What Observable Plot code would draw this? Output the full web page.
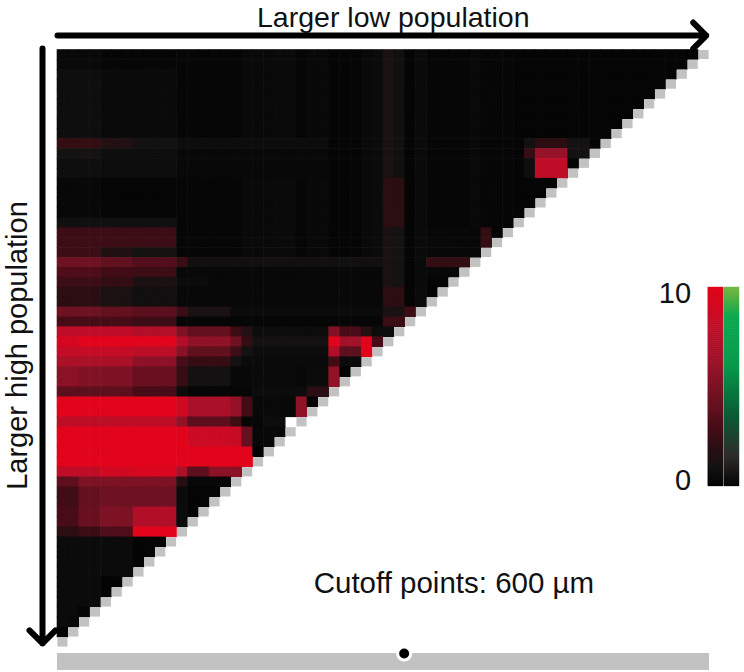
<!DOCTYPE html>
<html>
<head>
<meta charset="utf-8">
<script src="https://cdn.jsdelivr.net/npm/d3@7"></script>
<script src="https://cdn.jsdelivr.net/npm/@observablehq/plot@0.6"></script>
<style>html,body{margin:0;padding:0;background:#fff}svg{display:block}</style>
</head>
<body>
<div id="chart"></div>
<script>
// Colour scale stops (values 0-10)
const colorStops = [0, 0.5, 1, 2, 3, 4, 5, 6, 7, 8, 9, 10];
const colorRange = ["#030303","#0b0b0b","#151212","#2c0e12","#480c18","#64101f","#7c1224","#951228","#ab1029","#c00d27","#d20820","#e2041a"];
const greenStops = [0, 1.5, 3.5, 6, 8.5, 9.5, 10];
const greenRange = ["#050505","#2e2c2a","#0b5a34","#05984a","#0aa84f","#55b044","#76b843"];

// Shared runs, as [span, value, span, value, ...]
const midTail = [6,.2, 3,.35, 2,.45, 1,.2, 2,.4, 3,.15, 1,.4, 1,.5];
const rightTail = [1,.15, 1,.45, 4,.2, 1,.4, 3,.2, 18,.15];
const r00 = [4,.4, 7,.2, ...midTail, 1,1.2, 1,.8, ...rightTail];
const r02 = [4,.7, 7,.45, ...midTail, 1,1.2, 1,.8, ...rightTail];
const r09 = [4,2.2, 3,1.6, 4,.9, 14,.6, 3,.15, 1,.4, 1,.5, 1,1.2, 1,.8, 1,.15, 1,.45, 4,.2, 1,.4, 3,.2, 1,.15, 1,.9, 3,2, 2,.9, 9,.15];
const r10 = [4,1, 7,.7, 14,.3, 3,.15, 1,.4, 1,.5, 1,1.2, 1,.8, 1,.15, 1,.45, 4,.2, 1,.4, 3,.2, 1,.15, 1,2.4, 3,6, 2,.9];
const r11 = [4,.7, 7,.6, 14,.3, 3,.15, 1,.4, 1,.5, 1,1.2, 1,.8, 1,.15, 1,.45, 4,.2, 1,.4, 3,.2, 1,.15, 1,.7, 3,8, 1,.1];
const r13 = [4,.3, 7,.1, ...midTail, 2,1.9, ...rightTail];
const r17 = [11,.8, ...midTail, 2,1.9, ...rightTail];
const r18 = [11,2.6, ...midTail, 1,1.3, 1,1, 1,.15, 1,.45, 5,.3, 1,2.2, 1,.05];
const r20 = [4,2.6, 3,1.5, 4,1, ...midTail, 1,1.3, 1,1, 1,.15, 1,.45, 5,.3];
const r21 = [4,4.4, 3,3.9, 4,3.4, 1,2.5, 18,.8, 1,1.3, 1,1, 1,.15, 1,.45, 4,2.2];
const r22 = [4,3.2, 3,2.8, 4,2.6, 19,.3, 1,1.3, 1,1, 1,.15, 1,.45, 3,.3];
const r23 = [4,2.6, 3,2.2, 4,1.3, 3,.5, 16,.3, 1,1.3, 1,1, 1,.15, 1,.45, 2,.1];
const r24 = [4,2, 3,1.2, 4,.8, 19,.3, 2,2, 1,.1, 1,.5, 1,.05];
const r26 = [4,4.4, 3,4, 4,3.7, 1,2.6, 4,1.2, 14,.5, 2,1.2, 1,2.6];
const r27 = [4,3, 3,3, 4,2.6, 19,.2, 2,2.5];
const r28 = [7,8, 4,7.4, 1,5.2, 4,4, 1,2.6, 1,1.6, 7,.6, 1,5.2, 2,3, 1,1.8, 1,.6, 1,.6];
const r29 = [2,9.2, 9,10, 1,7.3, 4,5.8, 1,4.4, 1,2.3, 7,.9, 1,10, 2,6.6, 1,10, 1,3];
const r30 = [7,8.2, 4,7.8, 1,5.5, 4,3.9, 1,2.6, 1,.9, 7,.6, 1,7.3, 2,3.7, 1,10];
const r31 = [7,7, 4,5.7, 1,3, 4,2.4, 1,.9, 8,.45, 1,2.7, 2,.5];
const r32 = [2,5.6, 2,5.2, 3,5, 4,4.2, 1,2.4, 4,.9, 2,.3, 4,.45, 1,.3, 2,.5, 1,5.8, 1,0];
const r34 = [7,3.8, 4,3, 1,.6, 6,.2, 5,.6, 2,1.9];
const r35 = [11,10, 1,8.8, 4,7, 1,5.9, 1,2.7, 4,.4, 1,5.8, 1,0];
const r37 = [11,7.8, 1,5.9, 4,3.8, 1,2.6, 2,.2, 2,.6];
const r38 = [12,10, 4,8.6, 1,8.4, 1,4.1, 3,.3];
const r40 = [18,10, 1,0];
const r42 = [4,8, 3,8.9, 4,9.4, 1,7, 2,3.8, 3,5.6];
const r43 = [2,3.8, 9,5, 1,1.7, 4,.3];
const r44 = [2,2.7, 2,4, 7,4.4, 1,.5, 3,.15];
const r46 = [2,3, 2,4.2, 3,5, 4,7.3, 1,.5, 1,.1];
const r48 = [2,1.9, 2,2.5, 3,3.2, 4,10];
const r49 = [7,.5, 3,.1];
const r53 = [4,.5, 6,.05];
const r56 = [2,.5, 1,.1];
const r57 = [1,.5, 1,.4];
const r58 = [1,.05];
const rowRuns = [
  r00,r00,r02,r02,r02,r02,r02,r02,r02,r09,r10,r11,r11,r13,r13,r13,r13,r17,r18,r18,
  r20,r21,r22,r23,r24,r24,r26,r27,r28,r29,r30,r31,r32,r32,r34,r35,r35,r37,r38,r38,
  r40,r40,r42,r43,r44,r44,r46,r46,r48,r49,r49,r49,r49,r53,r53,r53,r56,r57,r58
];
const rowCount = 60;

// Labels
const topLabel = "Larger low population";
const leftLabel = "Larger high population";
const cutoffLabel = "Cutoff points: 600 µm";
const legendTicks = [{v:10,t:"10"},{v:0,t:"0"}];

// Expand the runs into cells, stopping at the diagonal
const cells = [];
rowRuns.forEach((runs, r) => {
  let c = 0;
  for (let i = 0; i < runs.length; i += 2) {
    for (let k = 0; k < runs[i]; k++, c++) {
      if (c < rowCount - 1 - r) cells.push({r, c, v: runs[i + 1]});
    }
  }
});
const diagonal = d3.range(rowCount).map(r => ({r, c: rowCount - 1 - r}));

// Legend gradient: value steps placed alongside the triangle
const legendSteps = d3.range(0, 10, 0.1);
const legendR = v => 43.9 - v * 1.99;
const greenColor = d3.scaleLinear().domain(greenStops).range(greenRange);

const font = "'Liberation Sans', Arial, sans-serif";
const plot = Plot.plot({
  width: 744,
  height: 672,
  margin: 0,
  style: {background: "#fff", fontFamily: font},
  x: {type: "linear", domain: [0, 60], range: [57, 709], axis: null},
  y: {type: "linear", domain: [0, 28, 60], range: [49.5, 326.7, 647], axis: null},
  color: {type: "linear", domain: colorStops, range: colorRange},
  marks: [
    Plot.rect(cells, {x1: "c", x2: d => d.c + 1, y1: "r", y2: d => d.r + 1, fill: "v", inset: -0.3}),
    Plot.rect(diagonal, {x1: "c", x2: d => d.c + 1, y1: "r", y2: d => d.r + 1, fill: "#c2c2c2", inset: 0.4}),
    // Legend
    Plot.rect(legendSteps, {x1: 59.9, x2: 61.3, y1: d => legendR(d + 0.1), y2: d => legendR(d), fill: d => d + 0.05, inset: -0.3}),
    Plot.rect(legendSteps, {x1: 61.4, x2: 62.75, y1: d => legendR(d + 0.1), y2: d => legendR(d), fill: d => greenColor(d + 0.05), inset: -0.3}),
    Plot.text(legendTicks, {x: 58.3, y: d => d.v === 10 ? 24.6 : 43.3, text: "t", textAnchor: "end", fontSize: 29, fill: "#111"}),
    // Arrows
    Plot.arrow([0], {x1: 0, x2: 59.7, y1: -1.46, y2: -1.46, stroke: "#000", strokeWidth: 6, headLength: 4.6, headAngle: 90, bend: 0}),
    Plot.arrow([0], {x1: -1.38, x2: -1.38, y1: -0.15, y2: 59.6, stroke: "#000", strokeWidth: 6, headLength: 4.6, headAngle: 90, bend: 0}),
    // Texts
    Plot.text([topLabel], {x: 30.9, y: -3.2, text: d => d, fontSize: 28.5, fill: "#111"}),
    Plot.text([leftLabel], {x: -3.66, y: 29.83, text: d => d, fontSize: 29, rotate: -90, fill: "#111"}),
    Plot.text([cutoffLabel], {x: 36.48, y: 53.6, text: d => d, fontSize: 29.5, fill: "#111"}),
    // Slider
    Plot.rect([0], {x1: 0, x2: 60, y1: 60.6, y2: 62.3, fill: "#c2c2c2"}),
    Plot.dot([0], {x: 31.9, y: 60.6, r: 8, fill: "#fff"}),
    Plot.dot([0], {x: 31.9, y: 60.6, r: 5, fill: "#000"})
  ]
});
document.getElementById("chart").append(plot);
</script>
</body>
</html>
